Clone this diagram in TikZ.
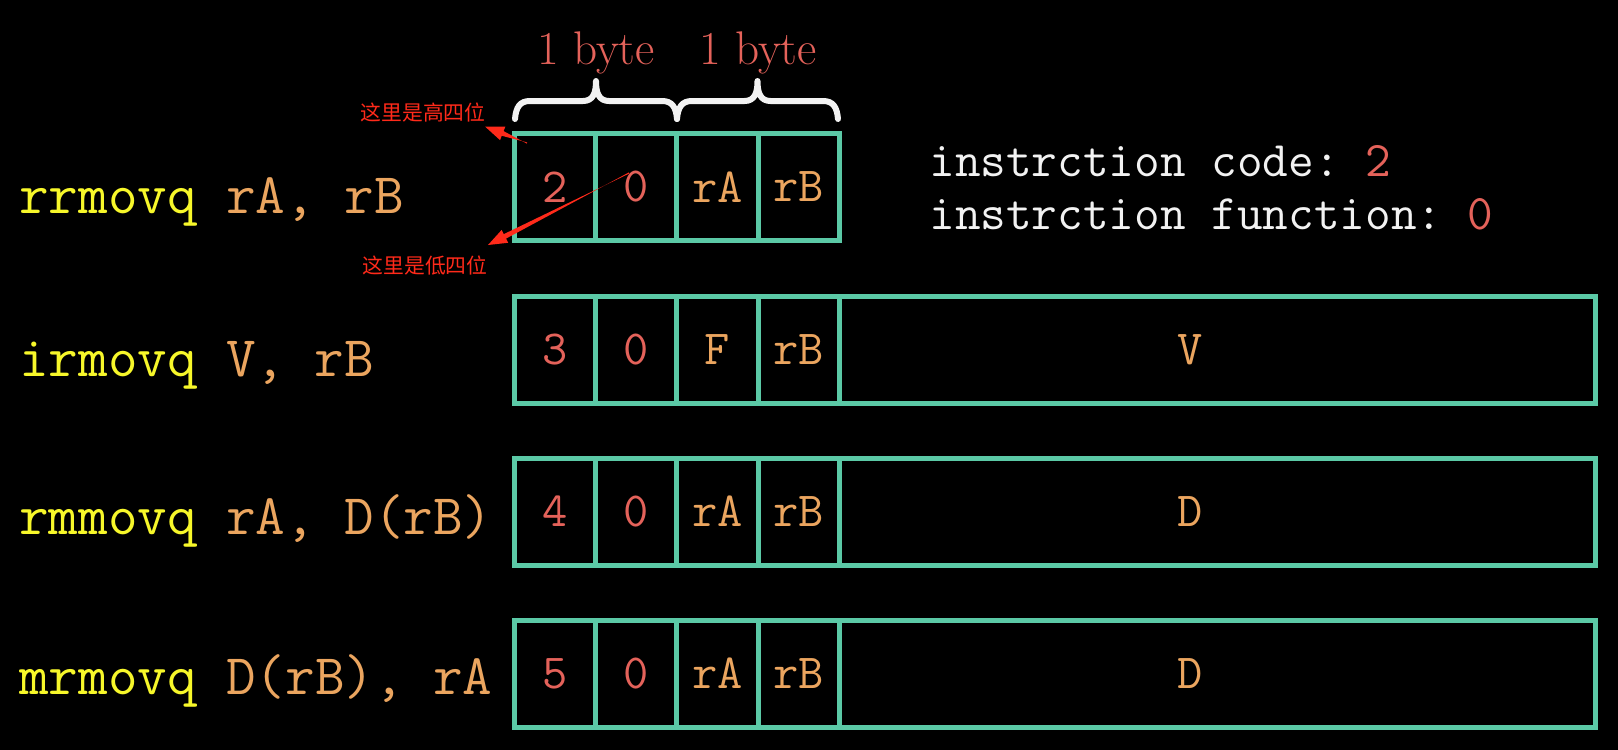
\documentclass[tikz,border=0pt]{standalone}
\usepackage{fontspec}
\newfontfamily\cjk{Noto Sans CJK SC}
\usetikzlibrary{calc}
\definecolor{tealc}{HTML}{5BC9A6}
\definecolor{numred}{HTML}{E4625A}
\definecolor{goldc}{HTML}{EBA55F}
\definecolor{yelc}{HTML}{F7F72A}
\definecolor{annot}{HTML}{FF2A1A}
\definecolor{whitec}{HTML}{F2F2F2}
\frenchspacing
\newcommand\myCellFont{\ttfamily\fontsize{24.5}{29}\selectfont}
\newcommand\myInfoFont{\ttfamily\fontsize{24.9}{30}\selectfont}
\newcommand\myLabelFont{\ttfamily\fontsize{28.7}{33}\selectfont}
\newcommand\myByteFont{\rmfamily\fontsize{23.6}{28}\selectfont}
\newcommand\myCjkFont{\cjk\fontsize{10.4}{12}\selectfont}
\newcommand\annarrow[2]{%
  \fill[annot] ($(#1)!0.3pt!90:(#2)$)
    -- ($(#2)!9.5pt!(#1)!1.25pt!-90:(#2)$)
    -- ($(#2)!9.5pt!(#1)!3.6pt!-90:(#2)$)
    -- (#2)
    -- ($(#2)!9.5pt!(#1)!3.6pt!90:(#2)$)
    -- ($(#2)!9.5pt!(#1)!1.25pt!90:(#2)$)
    -- ($(#1)!0.3pt!-90:(#2)$) -- cycle;}
\newcommand\mybrace[3]{% left x, mid x, right x
  \draw[bracestyle] (#1,119) .. controls (#1+1,107) and (#1+5,101) .. (#1+15,101)
    -- (#2-13,101) .. controls (#2-3,101) and (#2,93) .. (#2,81)
    .. controls (#2,93) and (#2+3,101) .. (#2+13,101)
    -- (#3-15,101) .. controls (#3-5,101) and (#3-1,107) .. (#3,119);}
\begin{document}
\begin{tikzpicture}[x=0.5pt,y=-0.5pt,
  cell/.style={draw=tealc, line width=2.5pt, inner sep=0pt, outer sep=0pt,
    minimum width=40.6pt, minimum height=53.5pt, font=\myCellFont},
  code/.style={cell, text=numred},
  arg/.style={cell, text=goldc},
  bigcell/.style={cell, minimum width=377.85pt},
  bigtxt/.style={font=\myCellFont, text=goldc, inner sep=0pt},
  lbl/.style={font=\myLabelFont, anchor=base west, inner sep=0pt},
  info/.style={font=\myInfoFont, text=whitec, anchor=base west, inner sep=0pt},
  bytelbl/.style={font=\myByteFont, text=numred, anchor=base, inner sep=0pt},
  bracestyle/.style={draw=whitec, line width=3pt, line cap=round, line join=round},
  cjklbl/.style={font=\myCjkFont, text=annot, inner sep=0pt}]
\fill[black] (0,0) rectangle (1618,750);
\useasboundingbox (0,0) rectangle (1618,750);

% row 1
\node[code] (c11) at (555.1,187) {2};
\node[code] (c12) at (636.3,187) {0};
\node[arg]  (c13) at (717.5,187) {rA};
\node[arg]  (c14) at (798.7,187) {rB};
% rows 2-4
\foreach \r/\y/\c/\a/\big in {2/349.5/3/F/V, 3/511.5/4/rA/D, 4/673.5/5/rA/D}{
  \node[code] (c\r1) at (555.1,\y) {\c};
  \node[code] (c\r2) at (636.3,\y) {0};
  \node[arg]  (c\r3) at (717.5,\y) {\a};
  \node[arg]  (c\r4) at (798.7,\y) {rB};
  \node[bigcell] (v\r) at (1217.2,\y) {};
  \node[bigtxt] (t\r) at ($(v\r.center)+(-27,0)$) {\big};
}

% left labels
\node[lbl] (l1) at (19,213) {\textcolor{yelc}{rrmovq} \textcolor{goldc}{rA, rB}};
\node[lbl] (l2) at (19,376) {\textcolor{yelc}{irmovq} \textcolor{goldc}{V, rB}};
\node[lbl] (l3) at (19,534) {\textcolor{yelc}{rmmovq} \textcolor{goldc}{rA, D(rB)}};
\node[lbl] (l4) at (19,694) {\textcolor{yelc}{mrmovq} \textcolor{goldc}{D(rB), rA}};

% instruction info
\node[info] (i1) at (929,176) {instrction code: \textcolor{numred}{2}};
\node[info] (i2) at (929,229.5) {instrction function: \textcolor{numred}{0}};

% bytes
\mybrace{515}{596}{677}
\mybrace{677}{757.5}{838}
\node[bytelbl] (b1) at (596,64) {1 byte};
\node[bytelbl] (b2) at (758,64) {1 byte};

% annotations
\node[cjklbl] (hi) at (423,113) {这里是高四位};
\node[cjklbl] (lo) at (425,266) {这里是低四位};
\coordinate (a1t) at (527,143);
\coordinate (a1h) at (485,126.5);
\coordinate (a2t) at (629,173);
\coordinate (a2h) at (488,245);
\annarrow{a1t}{a1h}
\annarrow{a2t}{a2h}
\end{tikzpicture}
\end{document}
